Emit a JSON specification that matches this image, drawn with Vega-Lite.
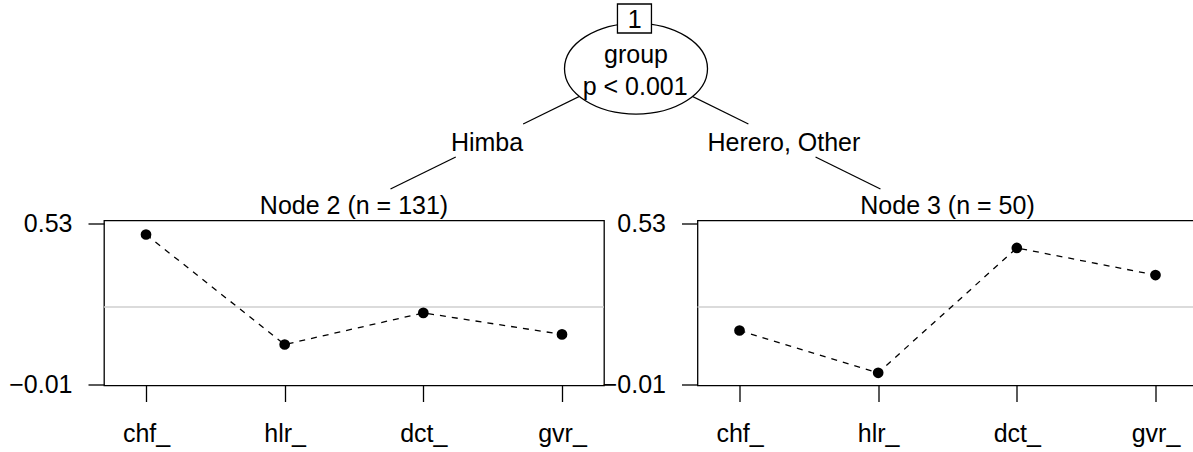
{
  "$schema": "https://vega.github.io/schema/vega-lite/v6.json",
  "padding": {"left": 8, "top": 0, "right": -4, "bottom": 0},
  "background": "white",
  "spacing": 3.5,
  "config": {
    "font": "Liberation Sans",
    "view": {"stroke": null},
    "axis": {
      "labelFont": "Liberation Sans",
      "labelFontSize": 25,
      "labelColor": "black",
      "tickColor": "black",
      "tickWidth": 1.3,
      "tickSize": 16,
      "grid": false,
      "domain": false,
      "title": null
    },
    "title": {
      "font": "Liberation Sans",
      "fontSize": 25,
      "fontWeight": "normal",
      "color": "black",
      "anchor": "middle",
      "frame": "group",
      "offset": -8
    },
    "text": {"font": "Liberation Sans", "fontSize": 25, "color": "black"}
  },
  "datasets": {
    "edges": [
      {"x": 0.5327, "y": 0.152, "x2": 0.4381, "y2": 0.2743},
      {"x": 0.3816, "y": 0.3473, "x2": 0.3269, "y2": 0.4181},
      {"x": 0.5327, "y": 0.152, "x2": 0.6269, "y2": 0.2743},
      {"x": 0.6832, "y": 0.3473, "x2": 0.7376, "y2": 0.4181}
    ],
    "inner": [{"x": 0.5327, "y": 0.152}],
    "idbox": [{"x": 0.5314, "y": 0.0409}],
    "labels": [
      {"text": "1", "x": 0.5316, "y": 0.0619},
      {"text": "group", "x": 0.5327, "y": 0.1387},
      {"text": "p < 0.001", "x": 0.532, "y": 0.2102},
      {"text": "Himba", "x": 0.4078, "y": 0.3341},
      {"text": "Herero, Other", "x": 0.6567, "y": 0.3341}
    ],
    "means": [
      {"node": 2, "var": "chf_", "value": 0.492},
      {"node": 2, "var": "hlr_", "value": 0.123},
      {"node": 2, "var": "dct_", "value": 0.229},
      {"node": 2, "var": "gvr_", "value": 0.157},
      {"node": 3, "var": "chf_", "value": 0.17},
      {"node": 3, "var": "hlr_", "value": 0.028},
      {"node": 3, "var": "dct_", "value": 0.447},
      {"node": 3, "var": "gvr_", "value": 0.356}
    ],
    "overall": [{"mean": 0.249}]
  },
  "vconcat": [
    {
      "width": 1089.5,
      "height": 190,
      "layer": [
        {
          "data": {"name": "edges"},
          "mark": {"type": "rule", "color": "black", "strokeWidth": 1.3},
          "encoding": {
            "x": {"field": "x", "type": "quantitative", "scale": {"domain": [0.08676, 1], "nice": false, "zero": false}, "axis": null},
            "y": {"field": "y", "type": "quantitative", "scale": {"domain": [0, 0.42035], "nice": false, "zero": false, "reverse": true}, "axis": null},
            "x2": {"field": "x2"},
            "y2": {"field": "y2"}
          }
        },
        {
          "data": {"name": "inner"},
          "mark": {"type": "point", "shape": "M-1,0A1,0.634,0,1,1,1,0A1,0.634,0,1,1,-1,0Z", "size": 20449, "filled": true, "fill": "white", "stroke": "black", "strokeWidth": 1.3, "opacity": 1},
          "encoding": {
            "x": {"field": "x", "type": "quantitative"},
            "y": {"field": "y", "type": "quantitative"}
          }
        },
        {
          "data": {"name": "idbox"},
          "mark": {"type": "point", "shape": "M-1,-0.853H1V0.853H-1Z", "size": 1156, "filled": true, "fill": "white", "stroke": "black", "strokeWidth": 1.3, "opacity": 1},
          "encoding": {
            "x": {"field": "x", "type": "quantitative"},
            "y": {"field": "y", "type": "quantitative"}
          }
        },
        {
          "data": {"name": "labels"},
          "mark": {"type": "text", "align": "center", "baseline": "alphabetic", "fontSize": 25},
          "encoding": {
            "x": {"field": "x", "type": "quantitative"},
            "y": {"field": "y", "type": "quantitative"},
            "text": {"field": "text"}
          }
        }
      ]
    },
    {
      "bounds": "flush",
      "spacing": 93.5,
      "hconcat": [
        {
          "width": 500,
          "height": 165,
          "title": "Node 2 (n = 131)",
          "view": {"stroke": "black", "strokeWidth": 1.3},
          "layer": [
            {
              "data": {"name": "overall"},
              "mark": {"type": "rule", "color": "#cfcfcf", "strokeWidth": 1.5},
              "encoding": {
                "y": {"field": "mean", "type": "quantitative", "scale": {"domain": [-0.0145, 0.539], "nice": false, "zero": false}, "axis": {"values": [-0.01, 0.53], "format": ".2f", "labelPadding": 16}}
              }
            },
            {
              "data": {"name": "means"},
              "transform": [{"filter": "datum.node == 2"}],
              "mark": {"type": "line", "color": "black", "strokeDash": [6, 6], "strokeWidth": 1.3},
              "encoding": {
                "x": {"field": "var", "type": "nominal", "sort": ["chf_", "hlr_", "dct_", "gvr_"], "scale": {"type": "point", "padding": 0.303}, "axis": {"labelAngle": 0, "labelPadding": 20, "labelBaseline": "top"}},
                "y": {"field": "value", "type": "quantitative"},
                "order": {"value": null}
              }
            },
            {
              "data": {"name": "means"},
              "transform": [{"filter": "datum.node == 2"}],
              "mark": {"type": "point", "shape": "circle", "filled": true, "color": "black", "size": 115, "opacity": 1},
              "encoding": {
                "x": {"field": "var", "type": "nominal", "sort": ["chf_", "hlr_", "dct_", "gvr_"]},
                "y": {"field": "value", "type": "quantitative"}
              }
            }
          ]
        },
        {
          "width": 500,
          "height": 165,
          "title": "Node 3 (n = 50)",
          "view": {"stroke": "black", "strokeWidth": 1.3},
          "layer": [
            {
              "data": {"name": "overall"},
              "mark": {"type": "rule", "color": "#cfcfcf", "strokeWidth": 1.5},
              "encoding": {
                "y": {"field": "mean", "type": "quantitative", "scale": {"domain": [-0.0145, 0.539], "nice": false, "zero": false}, "axis": {"values": [-0.01, 0.53], "format": ".2f", "labelPadding": 16}}
              }
            },
            {
              "data": {"name": "means"},
              "transform": [{"filter": "datum.node == 3"}],
              "mark": {"type": "line", "color": "black", "strokeDash": [6, 6], "strokeWidth": 1.3},
              "encoding": {
                "x": {"field": "var", "type": "nominal", "sort": ["chf_", "hlr_", "dct_", "gvr_"], "scale": {"type": "point", "padding": 0.303}, "axis": {"labelAngle": 0, "labelPadding": 20, "labelBaseline": "top"}},
                "y": {"field": "value", "type": "quantitative"},
                "order": {"value": null}
              }
            },
            {
              "data": {"name": "means"},
              "transform": [{"filter": "datum.node == 3"}],
              "mark": {"type": "point", "shape": "circle", "filled": true, "color": "black", "size": 115, "opacity": 1},
              "encoding": {
                "x": {"field": "var", "type": "nominal", "sort": ["chf_", "hlr_", "dct_", "gvr_"]},
                "y": {"field": "value", "type": "quantitative"}
              }
            }
          ]
        }
      ]
    }
  ]
}
